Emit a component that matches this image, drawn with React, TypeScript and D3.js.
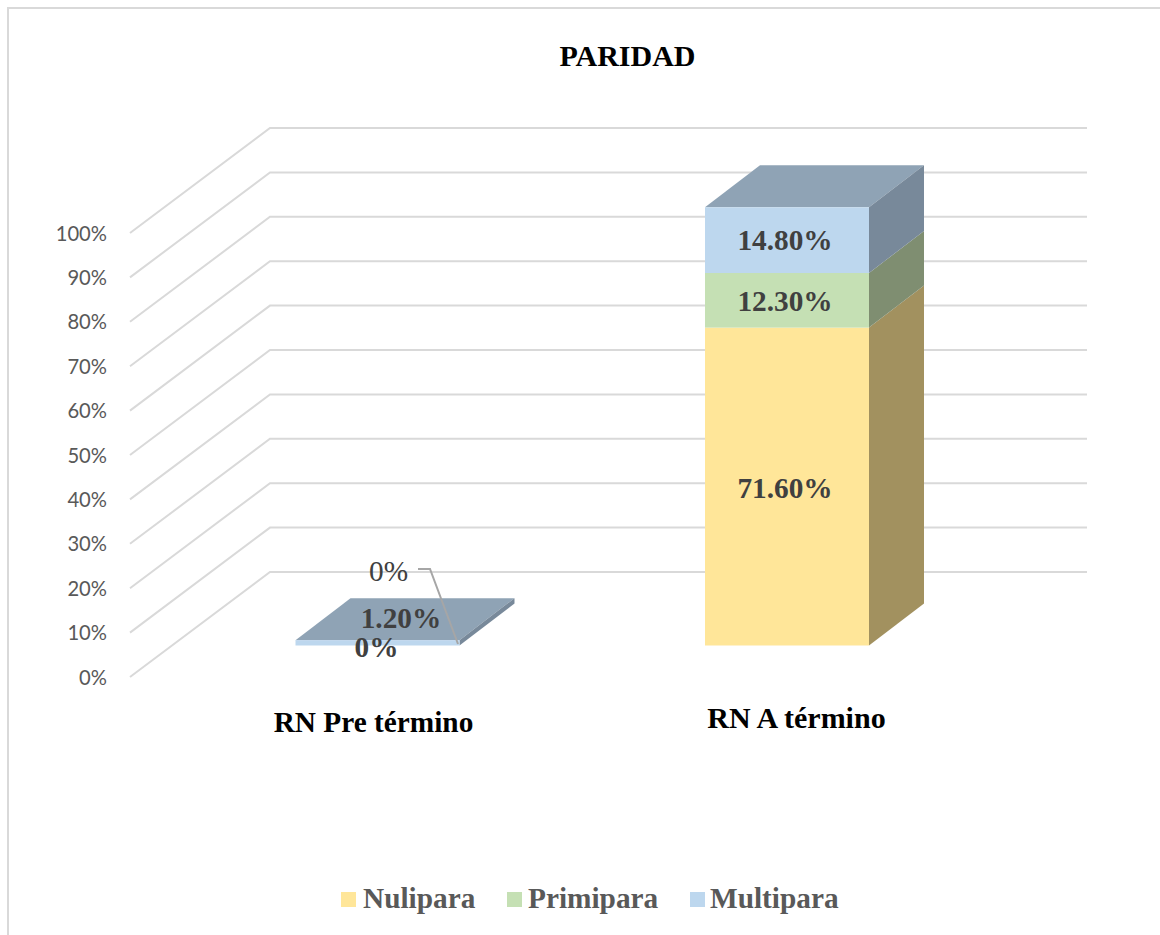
import React from "react";
import * as d3 from "d3";

const categories = ["RN Pre término", "RN A término"];
const seriesNames = ["Nulipara", "Primipara", "Multipara"];
const nulipara = [0, 71.6];
const primipara = [0, 12.3];
const multipara = [1.2, 14.8];
const yTicks = [0, 10, 20, 30, 40, 50, 60, 70, 80, 90, 100];
const frontColors = ["#FFE699", "#C5E0B4", "#BDD7EE"];
const sideColors = ["#A2915F", "#7F8E71", "#78899A"];
const topColor = "#8FA3B5";

const serif = "'Liberation Serif', serif";
const sans = "Lato, sans-serif";

const W = 1160, H = 935;
const y = d3.scaleLinear().domain([0, 100]).range([677, 233]);
const floorX0 = 130, wallX0 = 270, wallX1 = 1087, wallDy = -105;
const x = d3.scalePoint<string>().domain(categories).range([377.5, 787]);
const barW = 164;
const depthX = 55, depthY = -42;
const base = 645.5;
const h = (v: number) => y(0) - y(v);
const labelFs = 29.3;

function poly(pts: [number, number][]) {
  return d3.line()(pts) + "Z";
}

export default function App() {
  const values = [nulipara, primipara, multipara];
  const stack = d3.stack<number>()
    .keys([0, 1, 2] as any)
    .value((i: number, k: any) => values[k][i])([0, 1] as any);
  return (
    <svg width={W} height={H} style={{ position: "absolute", left: 0, top: 0, background: "#fff" }}>
      <path d="M8 935V8H1160" fill="none" stroke="#d9d9d9" strokeWidth={2} />
      <text x={627.5} y={66} textAnchor="middle" fontFamily={serif} fontWeight="bold" fontSize={30} fill="#000">PARIDAD</text>

      {yTicks.map((t) => (
        <g key={t}>
          <path
            d={d3.line()([[floorX0, y(t)], [wallX0, y(t) + wallDy], [wallX1, y(t) + wallDy]]) as string}
            fill="none" stroke="#d9d9d9" strokeWidth={2}
          />
          <text x={107} y={y(t) + 7.5} textAnchor="end" fontFamily={sans} fontSize={20.2} fill="#595959">{t}%</text>
        </g>
      ))}

      {categories.map((c, i) => {
        const l = (x(c) as number) - barW / 2, r = l + barW;
        const top = base - h(d3.sum(values, (s) => s[i]));
        return (
          <g key={c}>
            <path d={poly([[l, top], [r, top], [r + depthX, top + depthY], [l + depthX, top + depthY]])} fill={topColor} />
            {stack.map((s, k) => {
              const y0 = base - h(s[i][0]), y1 = base - h(s[i][1]);
              if (y0 === y1) return null;
              return (
                <g key={k}>
                  <path d={poly([[r, y0], [r + depthX, y0 + depthY], [r + depthX, y1 + depthY], [r, y1]])} fill={sideColors[k]} />
                  <rect x={l} y={y1} width={barW} height={y0 - y1} fill={frontColors[k]} />
                </g>
              );
            })}
          </g>
        );
      })}

      {/* second bar labels */}
      {stack.map((s, k) => {
        const c = categories[1];
        const y0 = base - h(s[1][0]), y1 = base - h(s[1][1]);
        const dy = [11.5, 11, 9.5][k];
        return (
          <text key={k} x={(x(c) as number) - 2} y={(y0 + y1) / 2 + dy} textAnchor="middle" fontFamily={serif} fontWeight="bold" fontSize={labelFs} fill="#404040">
            {values[k][1].toFixed(2)}%
          </text>
        );
      })}

      {/* first bar labels */}
      <path d="M418 569H430L458 644" fill="none" stroke="#a6a6a6" strokeWidth={2} />
      <text x={388.5} y={581} textAnchor="middle" fontFamily={serif} fontSize={labelFs} fill="#404040">{nulipara[0]}%</text>
      <text x={401} y={627.5} textAnchor="middle" fontFamily={serif} fontWeight="bold" fontSize={labelFs} fill="#404040">{multipara[0].toFixed(2)}%</text>
      <text x={376.5} y={656.5} textAnchor="middle" fontFamily={serif} fontWeight="bold" fontSize={labelFs} fill="#404040">{primipara[0]}%</text>

      <text x={373.5} y={732} textAnchor="middle" fontFamily={serif} fontWeight="bold" fontSize={labelFs} fill="#000">{categories[0]}</text>
      <text x={796.5} y={728} textAnchor="middle" fontFamily={serif} fontWeight="bold" fontSize={30} fill="#000">{categories[1]}</text>

      {seriesNames.map((n, k) => {
        const sx = [341, 507, 690][k], tx = [363, 528, 710][k];
        return (
          <g key={n}>
            <rect x={sx} y={892} width={15} height={15} fill={frontColors[k]} />
            <text x={tx} y={908} fontFamily={serif} fontWeight="bold" fontSize={labelFs} fill="#595959">{n}</text>
          </g>
        );
      })}
    </svg>
  );
}
